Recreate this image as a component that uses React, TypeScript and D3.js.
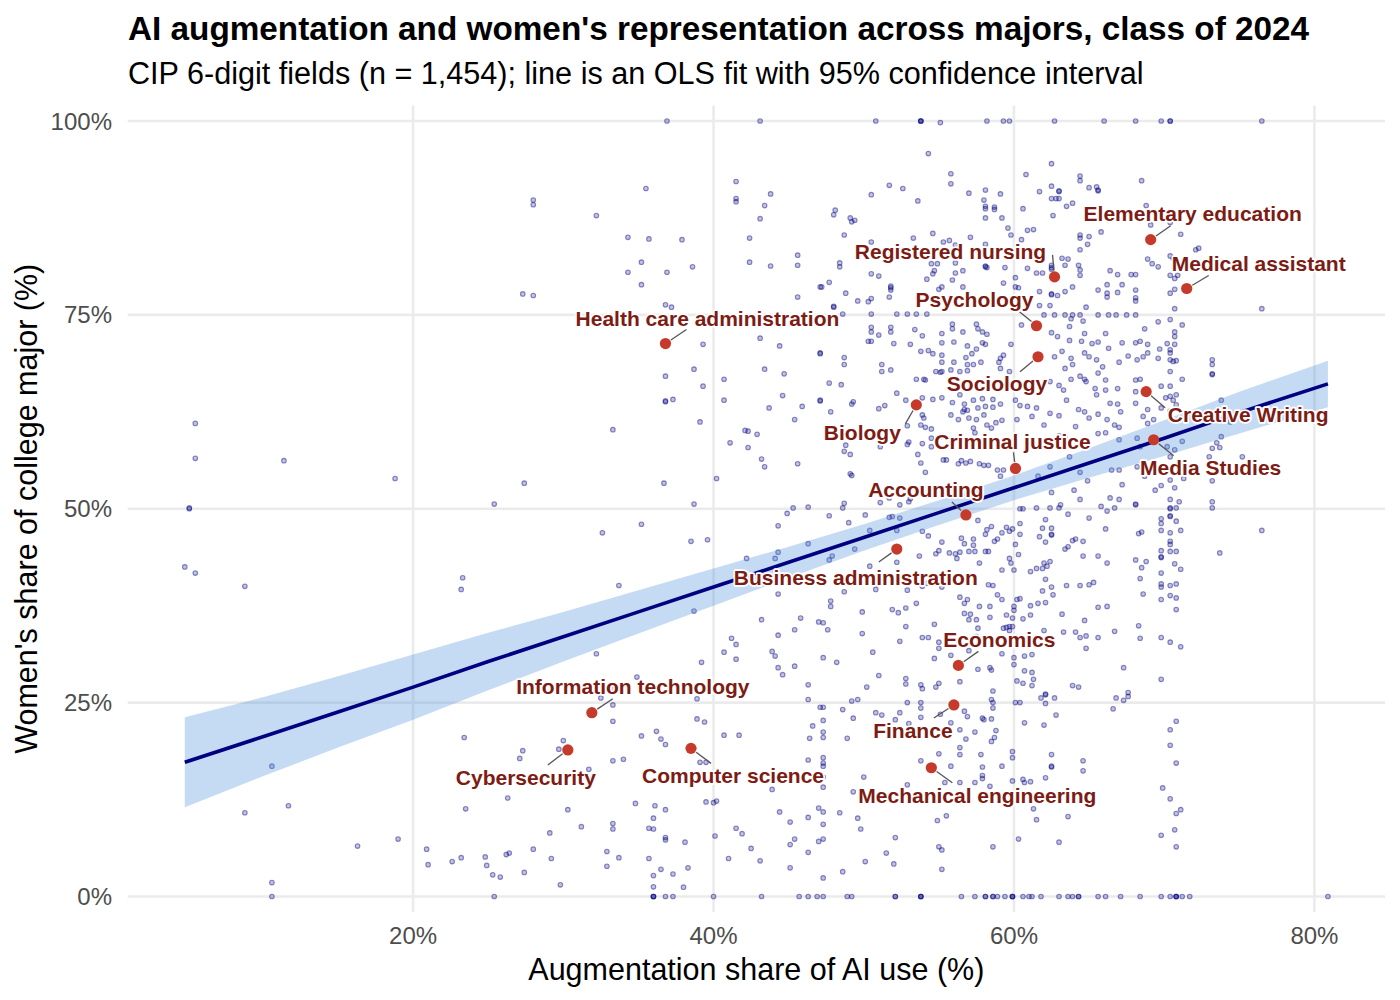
import * as d3 from "d3";

// ---- data ----
const xTicks = [20, 40, 60, 80];
const yTicks = [0, 25, 50, 75, 100];

// highlighted majors: augmentation share (%) and women's share (%)
const majorNames = [
  "Elementary education", "Registered nursing", "Medical assistant", "Psychology",
  "Health care administration", "Sociology", "Creative Writing", "Biology",
  "Media Studies", "Criminal justice", "Accounting", "Business administration",
  "Economics", "Finance", "Information technology", "Cybersecurity",
  "Computer science", "Mechanical engineering",
];
const majorAug = [69.1, 62.7, 71.5, 61.5, 36.8, 61.6, 68.8, 53.5, 69.3, 60.1, 56.8, 52.2, 56.3, 56.0, 31.9, 30.3, 38.5, 54.5];
const majorWomen = [84.7, 79.9, 78.4, 73.6, 71.3, 69.6, 65.1, 63.4, 58.9, 55.2, 49.2, 44.8, 29.8, 24.7, 23.7, 18.9, 19.1, 16.6];

// OLS fit and 95% band, read at these x values
const fitX = [4.8, 10, 15, 20, 25, 30, 35, 40, 45, 50, 55, 60, 65, 70, 75, 80.9];
const fitY = [17.3, 20.6, 23.8, 27.0, 30.3, 33.5, 36.7, 39.9, 43.1, 46.3, 49.5, 52.7, 55.9, 59.1, 62.4, 66.1];
const ciLow = [11.5, 15.5, 19.2, 22.8, 26.6, 30.3, 33.9, 37.5, 41.1, 44.6, 47.9, 51.1, 54.0, 56.8, 59.7, 63.1];
const ciHigh = [23.1, 25.7, 28.4, 31.2, 34.0, 36.7, 39.5, 42.3, 45.1, 48.0, 51.1, 54.3, 57.8, 61.4, 65.1, 69.1];

// all fields: [augmentation share %, women's share %]
const fieldPoints: [number, number][] = [
  [28.0,89.8],[28.0,89.2],[27.3,77.7],[28.0,77.5],[5.5,61.0],[5.5,56.5],[11.4,56.2],[18.8,53.9],[27.4,53.3],[25.4,50.6],[5.1,50.1],[5.1,50.0],
  [4.8,42.5],[5.5,41.7],[8.8,40.0],[23.3,41.1],[23.2,39.6],[23.4,20.5],[27.3,18.8],[27.1,17.8],[10.6,16.8],[11.7,11.7],[8.8,10.8],[23.5,11.3],[26.3,12.7],[16.3,6.5],[19.0,7.4],[20.9,6.1],[21.0,4.1],[22.6,4.5],[23.2,5.0],[24.8,5.1],[24.9,4.0],[25.3,2.8],[25.8,2.5],[26.2,5.4],[26.4,5.6],[28.0,6.1],[27.4,3.1],[10.6,1.8],[10.6,0],[25.4,0],
  [36.9,100],[43.1,100],[35.5,91.3],[32.2,87.8],[41.5,92.2],[41.5,90.0],[41.5,89.6],[43.8,90.6],[43.4,89.1],[43.1,87.4],[34.3,85.0],[35.7,84.8],[37.9,84.7],[42.4,84.9],[35.2,81.8],[38.6,81.2],[34.3,80.5],[36.9,80.5],[42.4,81.8],[43.8,81.3],[45.6,82.7],[45.6,81.4],[35.2,78.9],[36.8,76.3],[37.2,76.0],[45.6,77.3],[47.1,78.6],[39.3,71.2],[43.1,72.0],[44.4,71.0],[47.1,70.0],[36.8,67.1],[38.7,68.0],[39.3,65.8],[40.7,66.7],[43.4,68.0],[44.7,67.4],[36.8,63.9],[36.8,63.8],[37.3,64.1],[40.7,64.0],[44.6,64.6],[43.7,63.0],[45.9,63.2],[47.1,63.9],[45.4,61.5],[33.3,60.2],[39.1,61.2],[42.1,60.1],[42.3,60.0],[42.9,59.6],[41.1,58.5],[42.3,57.9],[43.2,56.4],[43.4,55.4],[45.6,55.8],[40.2,53.9],[36.7,53.3],[38.7,50.6],[45.3,50.1],[46.3,50.2],
  [44.9,49.4],[32.6,46.9],[35.2,48.0],[38.5,45.8],[39.6,46.0],[44.3,47.8],[44.3,44.4],[46.3,45.5],[42.2,43.6],[44.1,43.6],[33.7,40.1],[44.3,39.0],[38.7,36.8],[43.2,35.7],[45.8,35.9],[47.0,35.4],[44.3,33.7],[45.4,34.4],[41.2,33.3],[41.5,32.5],[40.7,31.5],[41.5,30.6],[43.9,31.6],[44.1,31.0],[44.3,29.5],[44.6,28.6],[45.4,29.7],[32.2,31.3],[39.2,30.2],[34.9,28.3],[46.3,27.3],[46.3,25.4],[47.1,24.4],[33.3,26.8],[38.9,25.5],[32.5,25.6],[33.3,24.7],[33.3,22.6],[38.9,22.9],[39.4,22.5],[35.2,20.7],[36.2,21.3],[36.5,20.3],[36.8,19.6],[40.7,20.8],[41.7,20.8],[46.6,22.0],[46.4,20.4],[30.0,20.1],[29.7,19.0],[33.3,17.5],[34.0,17.7],[31.7,16.4],[39.1,17.3],[39.5,17.3],[46.3,17.6],[43.9,13.8],[34.8,12.0],[36.1,11.7],[36.8,11.2],[39.5,12.2],[40.0,12.1],[40.2,12.3],[30.3,11.2],[29.1,8.2],[31.2,9.0],[33.3,9.4],[33.3,8.7],[36.0,10.1],[35.7,8.8],[36.0,8.7],[36.8,7.6],[36.8,7.3],[38.1,7.0],[32.9,5.8],[33.7,5.0],[32.9,3.9],[29.2,4.9],[29.8,1.5],[35.7,4.9],[36.0,2.7],[36.5,3.5],[37.3,2.9],[38.3,3.7],[36.0,1.25],[38.0,1.2],[41.5,8.8],[41.9,8.1],[40.1,7.8],[42.5,6.2],[41.0,4.9],[43.1,4.6],[44.4,10.9],[45.1,9.6],[46.3,10.2],[45.4,7.4],[45.1,6.7],[46.3,5.7],[45.1,3.7],[47.0,7.1],[47.0,11.4],
  [36.0,0],[36.0,0],[36.0,0],[36.8,0],[37.3,0],[40.0,0],[43.2,0],[45.7,0],[46.3,0],[46.9,0],
  [50.8,100],[53.8,100],[53.8,100],[53.8,100],[55.1,99.8],[58.2,100],[59.3,100],[59.7,100],[54.3,95.8],[55.8,93.2],[55.8,91.9],[60.8,93.1],[51.7,91.7],[52.6,91.3],[50.5,90.5],[53.6,89.7],[57.0,90.7],[58.1,91.1],[59.1,90.6],[58.0,89.8],[58.1,89.0],[58.1,88.7],[58.7,88.9],[58.7,88.6],[58.1,87.5],[59.2,87.5],[60.6,88.7],[48.1,88.5],[48.0,87.9],[49.1,87.5],[49.2,87.0],[49.4,87.2],[48.7,85.3],[59.6,86.2],[59.8,85.3],[60.9,85.9],[60.5,84.7],[54.6,85.5],[53.3,84.9],[50.5,84.4],[55.3,84.4],[55.7,84.6],[56.1,84.0],[57.1,85.0],[58.1,84.1],[48.4,81.7],[48.4,81.2],[54.5,81.6],[54.9,81.6],[56.1,81.7],[58.1,81.3],[58.2,81.1],[58.1,81.2],[59.4,81.1],[60.9,81.0],[50.5,80.3],[51.0,80.0],[54.7,80.7],[54.6,80.3],[56.1,80.4],[56.6,80.7],[54.2,79.6],[55.9,79.5],[60.1,79.8],[47.7,79.2],[47.2,78.6],[51.8,78.7],[51.8,78.2],[51.8,78.5],[48.8,77.8],[55.2,78.6],[55.0,78.3],[56.6,78.6],[59.3,79.1],[60.1,78.6],[60.3,78.5],[51.7,77.3],[49.6,76.8],[50.3,76.7],[50.5,77.1],[48.0,76.0],[48.0,76.1],
  [48.6,75.1],[50.5,75.1],[52.2,75.1],[52.9,75.1],[53.5,75.1],[54.2,75.1],[50.5,73.4],[50.5,72.8],[51.8,73.4],[51.8,72.8],[53.4,73.1],[53.9,72.3],[51.0,72.4],[50.3,71.6],[50.5,71.6],[52.0,71.3],[53.1,71.2],[55.2,72.6],[55.9,73.8],[55.9,73.2],[56.6,72.8],[55.2,71.4],[56.0,71.5],[57.5,73.8],[57.6,73.2],[57.9,72.8],[58.2,72.5],[58.1,71.2],[57.9,71.4],[56.9,71.0],[53.8,70.3],[54.3,70.4],[54.6,70.0],[55.2,69.8],[55.2,68.9],[55.2,67.7],[56.0,68.9],[56.8,69.5],[57.2,70.0],[57.5,70.6],[56.9,68.6],[57.3,68.6],[57.8,68.9],[59.0,68.9],[59.1,69.4],[59.3,69.8],[59.1,68.1],[59.8,71.2],[59.7,67.7],[60.5,73.7],[47.1,70.1],[48.7,69.5],[48.7,68.6],[51.2,68.6],[51.2,67.7],[51.8,67.9],[54.8,67.7],[55.1,67.6],[55.8,67.9],[56.4,67.7],[56.9,67.8],[53.5,66.7],[54.0,66.7],[54.1,66.6],[47.7,66.2],[48.5,66.0],[47.1,64.0],[49.2,63.5],[49.3,63.8],[52.2,64.9],[51.0,62.9],[51.4,63.3],[52.8,64.0],[47.8,62.5],[53.9,64.3],[54.6,64.1],[55.2,64.3],[55.9,63.7],[56.4,64.7],[56.7,63.5],[56.7,62.8],[56.6,62.5],[56.9,62.7],[57.3,64.0],[57.9,64.2],[58.6,64.1],[57.6,63.0],[58.1,63.2],[58.6,63.1],[59.1,63.5],[60.1,64.0],[60.4,63.3],[60.9,63.2],[53.9,62.1],[54.0,61.7],[53.8,60.8],[54.1,60.5],[55.8,62.1],[56.3,61.5],[57.0,61.7],[57.5,61.5],[58.0,62.1],[52.9,60.7],[54.5,60.3],[54.5,59.1],[55.1,59.3],[57.3,60.4],[57.4,59.8],[58.2,60.8],[58.5,60.4],[58.8,61.1],[59.2,61.4],[60.2,61.5],[48.8,58.2],[48.7,57.4],[49.1,57.0],[51.1,58.0],[52.9,58.3],[53.0,58.6],[53.6,57.0],[53.9,58.4],[54.5,58.0],[55.5,56.3],[55.3,56.3],[56.3,55.8],[56.5,56.2],[56.8,55.9],[57.1,56.1],[57.7,55.8],[58.0,55.6],[58.3,55.6],[53.8,55.9],[54.1,54.7],[49.1,54.5],[49.2,54.3],[58.9,55.0],[59.3,55.0],[59.1,54.2],[48.7,50.7],[48.6,50.1],[51.1,50.8],[51.7,51.4],[52.4,50.5],[53.0,50.9],[53.1,51.3],
  [47.7,49.1],[50.1,49.2],[49.0,48.2],[51.7,48.9],[51.9,49.0],[52.4,48.8],[50.4,47.2],[52.2,47.2],[53.9,47.1],[54.3,46.5],[49.4,44.8],[47.9,43.9],[47.7,43.4],[50.4,42.6],[52.2,43.1],[53.7,43.9],[54.8,44.2],[55.0,44.6],[55.2,45.7],[55.7,44.3],[56.1,44.2],[56.4,44.4],[56.2,43.6],[56.5,46.2],[56.7,45.5],[57.3,46.1],[57.3,45.3],[57.0,44.5],[57.4,44.5],[57.6,48.5],[58.1,46.7],[58.2,47.3],[58.5,47.7],[58.7,45.8],[58.9,46.1],[59.2,46.9],[59.5,47.6],[59.7,47.1],[59.9,47.4],[58.1,44.5],[58.3,44.5],[57.7,43.0],[59.2,42.1],[60.0,42.1],[59.7,43.6],[59.8,43.0],[60.1,45.4],[60.4,46.7],[60.4,48.1],[60.6,50.0],[60.4,50.0],[60.3,44.1],[50.8,39.6],[50.8,40.3],[48.7,39.3],[52.9,39.5],[53.9,40.0],[54.2,40.4],[55.2,39.9],[58.3,40.2],[58.6,40.1],[58.9,38.9],[59.2,38.3],[56.4,38.6],[56.7,37.8],[56.9,38.3],[57.7,37.4],[58.4,37.4],[47.8,38.1],[47.8,37.4],[49.9,36.7],[51.9,37.0],[52.3,36.6],[52.8,37.2],[53.5,37.8],[56.7,36.5],[57.1,36.4],[57.5,35.7],[57.0,35.7],[58.4,36.0],[59.5,36.3],[59.9,35.9],[60.0,36.9],[60.0,37.4],[60.2,38.3],[60.4,38.4],[60.6,35.8],[47.3,35.3],[47.6,34.4],[49.9,33.9],[52.8,34.8],[54.7,35.1],[53.9,33.4],[54.3,33.4],[55.0,32.8],[55.0,32.0],[52.4,32.9],[59.3,34.6],[59.5,34.7],[59.7,34.3],[59.9,34.8],[59.7,34.8],[57.6,34.6],[57.5,33.5],[47.3,30.8],[48.2,30.2],[50.6,31.5],[54.7,30.7],[55.8,31.1],[57.0,31.7],[59.2,31.3],[60.0,30.8],[60.0,29.9],[60.7,31.0],[60.7,29.1],[57.6,29.3],[58.4,29.5],[58.5,29.2],[51.0,28.5],[52.8,28.1],[52.8,27.4],[50.2,27.0],[53.8,27.3],[53.9,26.8],[55.0,27.5],[54.8,27.0],[56.4,27.7],[58.6,26.5],[60.2,27.8],[60.6,27.5],
  [47.3,24.4],[47.3,22.7],[47.3,21.2],[47.3,20.5],[47.3,17.9],[47.3,17.2],[47.3,16.8],[47.3,15.4],[47.3,14.1],[49.2,25.2],[49.6,25.4],[48.6,24.1],[49.3,23.0],[48.9,20.4],[50.8,23.7],[51.2,23.4],[52.4,23.7],[52.1,22.8],[52.9,25.0],[53.8,25.0],[53.8,24.3],[53.8,23.1],[53.0,22.3],[55.1,23.5],[55.8,22.4],[56.7,23.9],[56.9,23.2],[56.4,21.5],[56.8,20.3],[57.4,21.2],[58.0,22.8],[57.9,23.0],[58.5,22.9],[58.6,24.3],[58.6,25.0],[58.5,25.4],[58.8,21.4],[58.7,20.5],[58.5,20.0],[60.1,25.0],[60.4,25.0],[60.7,22.4],[59.9,18.7],[59.9,17.9],[59.9,14.9],[56.4,19.2],[56.4,18.3],[57.8,18.3],[57.9,16.7],[57.9,15.6],[57.9,15.2],[59.2,16.8],[55.0,18.4],[53.8,17.5],[55.8,16.8],[55.4,14.7],[56.4,14.7],[57.4,14.7],[58.4,14.2],[60.6,15.1],[61.1,14.8],[60.7,14.7],[50.0,15.4],[49.3,13.5],[52.9,14.4],[48.4,10.8],[47.3,10.9],[47.3,9.3],[47.3,7.4],[47.3,2.4],[49.6,10.1],[49.8,8.7],[54.9,9.8],[55.5,10.4],[52.1,7.6],[55.0,6.4],[55.2,6.0],[51.5,5.6],[50.1,4.5],[52.0,4.2],[55.2,3.5],[48.6,3.2],[58.6,6.4],[60.3,7.4],
  [47.3,0],[48.9,0],[49.2,0],[52.1,0],[52.1,0],[53.8,0],[53.8,0],[53.8,0],[56.5,0],[57.4,0],[58.1,0],[58.1,0],[58.6,0],[58.6,0],[58.9,0],[59.4,0],[59.9,0],[59.9,0],[59.9,0],[60.6,0],[61.0,0],
  [62.7,100],[66.0,100],[68.1,100],[69.8,100],[70.4,100],[70.4,100],[76.5,100],[62.5,94.5],[64.4,92.9],[64.4,92.3],[65.0,91.4],[65.5,91.5],[65.6,91.0],[65.6,91.1],[68.5,92.3],[61.7,90.9],[62.5,91.6],[63.0,90.9],[63.0,91.0],[62.5,90.0],[62.8,90.0],[63.0,90.0],[63.5,89.0],[63.9,89.4],[62.6,87.8],[68.8,89.1],[61.3,86.0],[64.4,85.3],[64.4,84.9],[65.0,85.1],[64.9,84.1],[64.4,83.4],[65.8,85.7],[69.1,86.6],[70.4,86.9],[71.1,85.4],[72.1,83.4],[68.9,82.2],[69.2,81.6],[69.6,81.2],[70.4,82.6],[70.6,82.3],[63.2,82.3],[63.6,82.2],[63.4,81.4],[62.5,81.4],[62.5,80.9],[62.5,81.1],[61.5,80.4],[61.9,80.4],[64.3,81.4],[64.4,80.8],[64.4,80.1],[66.4,80.7],[66.9,80.2],[67.8,80.2],[68.1,80.2],[70.4,80.1],[70.9,80.1],[70.7,79.7],[63.9,78.6],[63.4,78.0],[62.9,77.5],[62.5,77.6],[62.5,77.7],[61.7,78.0],[66.2,78.9],[67.2,78.9],[65.6,78.2],[66.2,77.8],[66.2,77.3],[66.9,77.9],[68.1,78.2],[68.1,77.2],[68.1,76.8],[70.4,77.8],[70.7,78.3],[61.7,76.2],[62.4,76.2],[64.8,76.0],[70.7,75.8],[76.5,75.8],[72.3,83.6],
  [62.0,75.0],[62.7,75.0],[63.4,75.0],[63.9,75.0],[64.4,75.0],[65.6,75.0],[66.3,75.0],[66.8,75.0],[67.5,75.0],[68.1,75.0],[63.8,74.5],[64.6,74.2],[63.7,73.5],[64.7,72.6],[64.5,71.6],[63.7,71.7],[63.2,70.3],[62.7,69.6],[62.5,72.7],[62.9,72.2],[65.2,71.3],[65.6,71.5],[66.3,70.7],[66.1,72.6],[67.2,71.4],[67.6,69.7],[68.1,71.4],[68.4,71.6],[68.9,71.2],[68.7,73.2],[69.6,74.1],[70.4,74.4],[71.2,73.7],[70.7,72.8],[70.7,72.2],[70.2,71.3],[70.4,70.5],[70.4,70.1],[70.7,71.2],[70.8,69.1],[69.7,70.6],[69.6,69.4],[67.0,68.9],[68.2,69.2],[68.6,69.6],[68.9,70.1],[65.5,69.2],[65.0,69.6],[63.8,69.4],[63.9,68.6],[63.4,68.1],[64.7,70.1],[65.6,67.5],[65.9,68.3],[64.4,67.1],[63.8,66.7],[63.0,65.9],[63.3,65.3],[62.4,66.4],[64.7,66.7],[64.8,66.4],[66.1,66.6],[65.4,65.5],[65.5,64.7],[66.1,65.3],[66.9,65.5],[66.4,63.6],[66.9,63.5],[67.1,62.5],[68.1,66.6],[68.4,66.7],[68.1,65.1],[68.1,63.6],[68.9,62.8],[68.6,61.9],[68.9,61.0],[69.3,61.5],[69.8,65.8],[70.4,65.8],[70.4,64.5],[70.6,64.0],[70.8,64.7],[70.1,64.3],[70.8,63.4],[70.4,62.6],[69.8,63.0],[70.4,67.7],[70.4,69.2],[70.6,69.0],[71.2,66.7],[73.2,69.2],[73.2,68.6],[73.2,67.3],[73.2,67.4],[73.8,64.0],[63.0,62.0],[62.4,62.3],[63.5,64.0],[64.3,62.8],[64.7,62.5],[65.0,61.7],[64.1,60.6],[63.4,59.3],[63.0,59.4],[61.5,63.0],[61.2,61.9],[62.0,60.8],[65.6,62.2],[66.2,61.5],[66.7,60.8],[67.0,60.5],[66.1,59.8],[65.6,59.7],[67.0,58.9],[68.2,59.1],[68.4,58.0],[70.2,58.0],[70.4,56.7],[70.7,57.6],[71.2,58.7],[73.5,58.5],[73.8,59.3],[74.4,61.2],[73.0,56.7],[73.2,57.8],[73.7,57.9],[75.2,56.7],[73.2,55.0],[73.2,53.6],[67.0,55.0],[67.2,53.1],[66.5,55.0],[64.9,53.6],[64.0,52.4],[64.4,51.2],[62.5,52.1],[63.1,50.5],[61.6,54.2],[62.4,55.4],[63.7,56.7],[64.4,54.7],[68.2,55.4],[68.7,54.2],[69.8,53.0],[70.4,53.7],[70.7,52.7],[71.3,53.9],[70.4,51.2],[71.0,50.9],[69.4,52.4],[73.2,50.9],[66.4,51.4],[67.0,51.2],[68.1,50.6],[65.8,50.3],
  [61.5,50.1],[62.4,50.1],[63.0,50.1],[66.7,50.1],[66.2,49.7],[68.1,50.5],[70.4,50.1],[70.4,50.0],[70.8,50.1],[70.4,49.0],[70.4,49.1],[70.8,48.4],[69.8,48.7],[69.8,48.1],[73.2,50.1],[63.6,49.3],[65.0,48.8],[62.1,48.6],[61.9,47.5],[62.5,47.5],[62.5,46.7],[62.5,46.6],[61.7,46.4],[62.1,45.7],[66.1,47.4],[68.5,47.0],[68.3,46.8],[69.8,47.2],[70.4,46.9],[71.1,47.2],[64.1,46.1],[63.9,45.9],[63.6,45.1],[63.4,44.8],[64.6,45.8],[70.4,45.8],[70.4,45.4],[69.8,44.6],[69.8,43.8],[69.8,43.7],[70.4,44.5],[70.8,44.5],[76.5,47.2],[73.7,44.3],[64.6,43.9],[65.6,43.9],[66.2,43.0],[68.1,43.4],[68.8,43.2],[68.5,42.4],[62.4,43.2],[62.0,43.0],[62.2,42.6],[61.5,42.3],[61.9,42.3],[61.1,41.9],[70.7,42.9],[71.1,42.2],[69.8,41.7],[62.1,40.9],[68.4,41.0],[63.5,40.1],[64.4,40.1],[65.0,40.2],[65.3,40.5],[62.5,39.9],[61.9,39.4],[62.6,38.9],[69.8,40.3],[69.8,39.9],[70.4,40.1],[70.8,40.3],[70.4,38.8],[70.8,38.5],[69.8,38.3],[70.8,37.0],[68.6,39.0],[61.6,37.8],[61.1,37.5],[62.1,37.9],[65.6,37.3],[66.2,37.4],[63.2,36.4],[61.1,36.3],[64.7,35.6],[68.3,34.9],[62.0,34.3],[63.3,34.1],[64.1,34.1],[64.4,33.4],[64.8,33.6],[65.6,33.4],[66.7,34.2],[68.4,33.3],[64.8,32.0],[69.8,33.4],[70.4,32.8],[71.1,32.2],[61.2,31.2],[61.2,28.9],[61.3,28.0],[61.2,27.2],[67.3,29.5],[69.8,28.0],[63.9,27.2],[64.3,27.0],[62.1,26.0],[62.1,26.1],[61.8,25.6],[62.7,25.6],[62.1,24.9],[62.8,23.4],[62.0,22.1],[66.8,25.6],[67.3,25.3],[67.6,25.8],[67.6,26.3],[66.6,24.2],[70.8,22.6],[70.4,21.5],[70.4,19.5],[70.8,17.2],[62.5,18.3],[62.5,16.7],[62.5,16.8],[62.1,15.3],[64.6,17.5],[64.6,16.2],[69.9,14.0],[70.4,12.6],[70.8,10.7],[71.1,11.2],[70.7,8.6],[69.8,7.9],[70.8,6.4],[61.3,11.3],[61.5,9.9],[63.6,10.3],[63.0,7.0],
  [61.2,0],[61.8,0],[63.0,0],[63.6,0],[63.9,0],[64.3,0],[64.3,0],[65.6,0],[66.1,0],[67.1,0],[68.4,0],[69.8,0],[70.4,0],[70.8,0],[70.8,0],[70.8,0],[71.2,0],[71.7,0],[80.9,0],
];

// label placement, in pixels from each point: label centre and leader end
const labelNudge: [number, number][] = [
  [42, -26], [-104, -25], [72, -25], [-62, -26], [42, -25], [-41, 27], [102, 23], [-54, 28],
  [57, 28], [-3, -27], [-40, -25], [-41, 28], [41, -26], [-41, 26], [41, -26], [-42, 28],
  [42, 27], [46, 28],
];
const leaderEnd: [number, number][] = [
  [20, -14], [-2, -22], [22, -13], [-17, -14], [21, -14], [-18, 15], [19, 16], [-11, 19],
  [20, 16], [-2, -16], [-14, -13], [-18, 13], [20, -14], [-20, 13], [21, -14], [-20, 15],
  [20, 15], [21, 15],
];

const FONT = "'Liberation Sans', Arial, Helvetica, sans-serif";
const W = 1400;
const H = 1000;
const panel = { left: 127.7, right: 1385, top: 105.5, bottom: 912 };

const LABEL_SIZE = 21;
const LABEL_COLOR = "#7d1c14";

export default function App() {
  const x = d3.scaleLinear().domain([1.0, 84.7]).range([panel.left, panel.right]);
  const y = d3.scaleLinear().domain([-2, 102]).range([panel.bottom, panel.top]);

  const band = d3.area<number>()
    .x((_, i) => x(fitX[i]))
    .y0((_, i) => y(ciLow[i]))
    .y1((_, i) => y(ciHigh[i]));
  const fitLine = d3.line<number>()
    .x((_, i) => x(fitX[i]))
    .y((d) => y(d));

  const pct = (v: number) => `${v}%`;

  const labels = majorNames.map((name, i) => {
    const px = x(majorAug[i]);
    const py = y(majorWomen[i]);
    const ex = px + leaderEnd[i][0];
    const ey = py + leaderEnd[i][1];
    const len = Math.hypot(ex - px, ey - py);
    // segment starts just outside the point
    const sx = px + ((ex - px) / len) * 6.5;
    const sy = py + ((ey - py) / len) * 6.5;
    return { name, px, py, cx: px + labelNudge[i][0], cy: py + labelNudge[i][1], sx, sy, ex, ey };
  });

  return (
    <svg
      width={W}
      height={H}
      style={{ position: "absolute", left: 0, top: 0, background: "#fff" }}
      fontFamily={FONT}
    >
      <rect width={W} height={H} fill="#fff" />

      {/* title block */}
      <text x={128} y={40} fontSize={33.3} fontWeight="bold" fill="#000">
        AI augmentation and women's representation across majors, class of 2024
      </text>
      <text x={128} y={84} fontSize={30.6} fill="#000">
        CIP 6-digit fields (n = 1,454); line is an OLS fit with 95% confidence interval
      </text>

      {/* grid */}
      <g stroke="#ebebeb" strokeWidth={2.6}>
        {yTicks.map((t) => (
          <line key={`gy${t}`} x1={panel.left} x2={panel.right} y1={y(t)} y2={y(t)} />
        ))}
        {xTicks.map((t) => (
          <line key={`gx${t}`} x1={x(t)} x2={x(t)} y1={panel.top} y2={panel.bottom} />
        ))}
      </g>

      {/* axis tick labels */}
      <g fontSize={24} fill="#4d4d4d">
        {yTicks.map((t) => (
          <text key={`ty${t}`} x={112} y={y(t) + 8.6} textAnchor="end">{pct(t)}</text>
        ))}
        {xTicks.map((t) => (
          <text key={`tx${t}`} x={x(t)} y={944} textAnchor="middle">{pct(t)}</text>
        ))}
      </g>

      {/* axis titles */}
      <text x={(panel.left + panel.right) / 2} y={980} textAnchor="middle" fontSize={30.5} fill="#000">
        Augmentation share of AI use (%)
      </text>
      <text
        transform={`translate(37, ${(panel.top + panel.bottom) / 2}) rotate(-90)`}
        textAnchor="middle"
        fontSize={30.5}
        fill="#000"
      >
        Women's share of college major (%)
      </text>

      {/* all fields */}
      <g fill="#000080" fillOpacity={0.24} stroke="#000080" strokeOpacity={0.45} strokeWidth={1.1}>
        {fieldPoints.map(([a, w], i) => (
          <circle key={i} cx={x(a)} cy={y(w)} r={2.3} />
        ))}
      </g>

      {/* OLS fit */}
      <path d={band(fitY) || ""} fill="#4a90d9" fillOpacity={0.32} />
      <path d={fitLine(fitY) || ""} fill="none" stroke="#000080" strokeWidth={3.6} />

      {/* highlighted majors */}
      <g stroke="#555" strokeWidth={1.3}>
        {labels.map((l) => (
          <line key={`s${l.name}`} x1={l.sx} y1={l.sy} x2={l.ex} y2={l.ey} />
        ))}
      </g>
      <g fill="#c63a2b">
        {labels.map((l) => (
          <circle key={`p${l.name}`} cx={l.px} cy={l.py} r={5.6} />
        ))}
      </g>
      <g
        fontSize={LABEL_SIZE}
        fontWeight="bold"
        fill={LABEL_COLOR}
        textAnchor="middle"
        stroke="#fff"
        strokeWidth={3.5}
        strokeLinejoin="round"
        paintOrder="stroke"
      >
        {labels.map((l) => (
          <text key={`l${l.name}`} x={l.cx} y={l.cy + 7.5}>{l.name}</text>
        ))}
      </g>
    </svg>
  );
}
